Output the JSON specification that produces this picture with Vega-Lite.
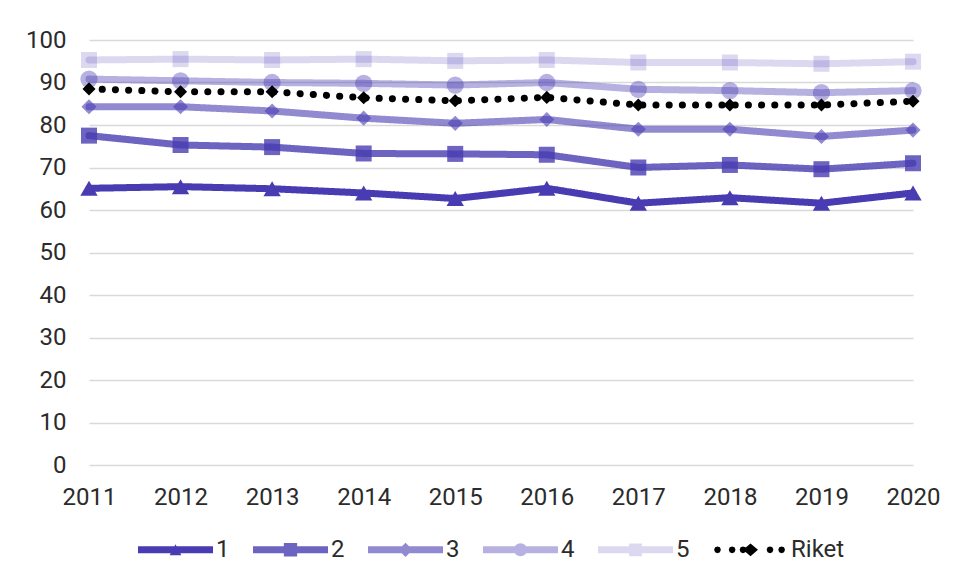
{
  "$schema": "https://vega.github.io/schema/vega-lite/v6.json",
  "width": 824,
  "height": 425,
  "autosize": {"type": "none"},
  "padding": {"left": 89, "top": 40, "right": 41, "bottom": 114},
  "background": "white",
  "config": {"view": {"stroke": null}, "font": "Roboto"},
  "data": {"values": [
    {"year": "2011", "series": "1", "value": 65.1},
    {"year": "2012", "series": "1", "value": 65.5},
    {"year": "2013", "series": "1", "value": 65.0},
    {"year": "2014", "series": "1", "value": 64.0},
    {"year": "2015", "series": "1", "value": 62.7},
    {"year": "2016", "series": "1", "value": 65.1},
    {"year": "2017", "series": "1", "value": 61.6},
    {"year": "2018", "series": "1", "value": 62.9},
    {"year": "2019", "series": "1", "value": 61.6},
    {"year": "2020", "series": "1", "value": 64.0},
    {"year": "2011", "series": "2", "value": 77.5},
    {"year": "2012", "series": "2", "value": 75.3},
    {"year": "2013", "series": "2", "value": 74.8},
    {"year": "2014", "series": "2", "value": 73.3},
    {"year": "2015", "series": "2", "value": 73.2},
    {"year": "2016", "series": "2", "value": 73.0},
    {"year": "2017", "series": "2", "value": 70.0},
    {"year": "2018", "series": "2", "value": 70.6},
    {"year": "2019", "series": "2", "value": 69.6},
    {"year": "2020", "series": "2", "value": 71.0},
    {"year": "2011", "series": "3", "value": 84.3},
    {"year": "2012", "series": "3", "value": 84.3},
    {"year": "2013", "series": "3", "value": 83.3},
    {"year": "2014", "series": "3", "value": 81.6},
    {"year": "2015", "series": "3", "value": 80.4},
    {"year": "2016", "series": "3", "value": 81.3},
    {"year": "2017", "series": "3", "value": 79.0},
    {"year": "2018", "series": "3", "value": 79.0},
    {"year": "2019", "series": "3", "value": 77.3},
    {"year": "2020", "series": "3", "value": 78.8},
    {"year": "2011", "series": "4", "value": 90.8},
    {"year": "2012", "series": "4", "value": 90.4},
    {"year": "2013", "series": "4", "value": 90.0},
    {"year": "2014", "series": "4", "value": 89.8},
    {"year": "2015", "series": "4", "value": 89.4},
    {"year": "2016", "series": "4", "value": 90.0},
    {"year": "2017", "series": "4", "value": 88.4},
    {"year": "2018", "series": "4", "value": 88.1},
    {"year": "2019", "series": "4", "value": 87.6},
    {"year": "2020", "series": "4", "value": 88.1},
    {"year": "2011", "series": "5", "value": 95.3},
    {"year": "2012", "series": "5", "value": 95.5},
    {"year": "2013", "series": "5", "value": 95.3},
    {"year": "2014", "series": "5", "value": 95.5},
    {"year": "2015", "series": "5", "value": 95.1},
    {"year": "2016", "series": "5", "value": 95.3},
    {"year": "2017", "series": "5", "value": 94.7},
    {"year": "2018", "series": "5", "value": 94.7},
    {"year": "2019", "series": "5", "value": 94.4},
    {"year": "2020", "series": "5", "value": 94.9},
    {"year": "2011", "series": "Riket", "value": 88.5},
    {"year": "2012", "series": "Riket", "value": 87.8},
    {"year": "2013", "series": "Riket", "value": 87.8},
    {"year": "2014", "series": "Riket", "value": 86.4},
    {"year": "2015", "series": "Riket", "value": 85.7},
    {"year": "2016", "series": "Riket", "value": 86.5},
    {"year": "2017", "series": "Riket", "value": 84.7},
    {"year": "2018", "series": "Riket", "value": 84.7},
    {"year": "2019", "series": "Riket", "value": 84.7},
    {"year": "2020", "series": "Riket", "value": 85.6}
  ]},
  "layer": [
    {"mark": {"type": "line", "strokeWidth": 7, "strokeCap": "round"},
      "encoding": {
        "x": {"field": "year", "type": "ordinal", "scale": {"type": "point", "padding": 0},
          "axis": {"title": null, "labelAngle": 0, "labelFontSize": 24, "labelColor": "#2b2b2b", "labelPadding": 20, "ticks": false, "domain": false, "grid": false}},
        "y": {"field": "value", "type": "quantitative", "scale": {"domain": [0, 100], "nice": false},
          "axis": {"title": null, "values": [0, 10, 20, 30, 40, 50, 60, 70, 80, 90, 100], "labelFontSize": 24, "labelColor": "#2b2b2b", "labelPadding": 23, "ticks": false, "domain": false, "gridColor": "#d9d9d9", "gridWidth": 1.5}},
        "color": {"field": "series", "type": "nominal",
          "scale": {"domain": ["1", "2", "3", "4", "5", "Riket"],
            "range": ["rgba(73,60,178,1)", "rgba(73,60,178,0.8)", "rgba(73,60,178,0.6)", "rgba(73,60,178,0.4)", "rgba(73,60,178,0.2)", "#000000"]},
          "legend": {"orient": "none", "legendX": 49, "legendY": 472, "direction": "horizontal", "columns": 6, "title": null,
            "symbolSize": 5625, "symbolOpacity": 1, "symbolStrokeWidth": 0, "symbolType": "circle", "labelFontSize": 24, "labelFont": "Roboto",
            "labelColor": "#2b2b2b", "labelOffset": 3, "columnPadding": 23, "padding": 0}},
        "strokeDash": {"field": "series", "type": "nominal",
          "scale": {"domain": ["1", "2", "3", "4", "5", "Riket"], "range": [[1, 0], [1, 0], [1, 0], [1, 0], [1, 0], [0.1, 13.1]]},
          "legend": null}}},
    {"transform": [{"filter": "false"}],
      "mark": {"type": "point", "filled": true, "opacity": 1},
      "encoding": {
        "x": {"field": "year", "type": "ordinal"},
        "y": {"field": "value", "type": "quantitative"},
        "color": {"field": "series", "type": "nominal"},
        "shape": {"field": "series", "type": "nominal",
          "scale": {"domain": ["1", "2", "3", "4", "5", "Riket"],
            "range": [
              "M-1,-0.093L1,-0.093L1,0.093L-1,0.093Z M0,-0.15L0.156,0.147L-0.156,0.147Z",
              "M-1,-0.093L1,-0.093L1,0.093L-1,0.093Z M-0.177,-0.177L0.177,-0.177L0.177,0.177L-0.177,0.177Z",
              "M-1,-0.093L1,-0.093L1,0.093L-1,0.093Z M0,-0.19L0.19,0L0,0.19L-0.19,0Z",
              "M-1,-0.093L1,-0.093L1,0.093L-1,0.093Z M0.175,0L0.162,0.067L0.124,0.124L0.067,0.162L0,0.175L-0.067,0.162L-0.124,0.124L-0.162,0.067L-0.175,0L-0.162,-0.067L-0.124,-0.124L-0.067,-0.162L0,-0.175L0.067,-0.162L0.124,-0.124L0.162,-0.067Z",
              "M-1,-0.093L1,-0.093L1,0.093L-1,0.093Z M-0.17,-0.17L0.17,-0.17L0.17,0.17L-0.17,0.17Z",
              "M-0.79,0L-0.816,0.064L-0.88,0.09L-0.944,0.064L-0.97,0L-0.944,-0.064L-0.88,-0.09L-0.816,-0.064Z M-0.4,0L-0.426,0.064L-0.49,0.09L-0.554,0.064L-0.58,0L-0.554,-0.064L-0.49,-0.09L-0.426,-0.064Z M-0.11,0L-0.136,0.064L-0.2,0.09L-0.264,0.064L-0.29,0L-0.264,-0.064L-0.2,-0.09L-0.136,-0.064Z M0,-0.17L0.2,0L0,0.17L-0.2,0Z M0.61,0L0.584,0.064L0.52,0.09L0.456,0.064L0.43,0L0.456,-0.064L0.52,-0.09L0.584,-0.064Z M0.92,0L0.894,0.064L0.83,0.09L0.766,0.064L0.74,0L0.766,-0.064L0.83,-0.09L0.894,-0.064Z"
            ]},
          "legend": {"orient": "none", "legendX": 49, "legendY": 472, "direction": "horizontal", "columns": 6, "title": null,
            "symbolSize": 5625, "symbolOpacity": 1, "symbolStrokeWidth": 0, "labelFontSize": 24, "labelFont": "Roboto",
            "labelColor": "#2b2b2b", "labelOffset": 3, "columnPadding": 23, "padding": 0}}
      }},
    {"transform": [{"filter": "datum.series === '1'"}], "mark": {"type": "point", "filled": true, "opacity": 1, "shape": "triangle-up", "size": 300},
      "encoding": {"x": {"field": "year", "type": "ordinal"}, "y": {"field": "value", "type": "quantitative"}, "color": {"field": "series", "type": "nominal"}}},
    {"transform": [{"filter": "datum.series === '2'"}], "mark": {"type": "point", "filled": true, "opacity": 1, "shape": "square", "size": 256},
      "encoding": {"x": {"field": "year", "type": "ordinal"}, "y": {"field": "value", "type": "quantitative"}, "color": {"field": "series", "type": "nominal"}}},
    {"transform": [{"filter": "datum.series === '3'"}], "mark": {"type": "point", "filled": true, "opacity": 1, "shape": "diamond", "size": 230},
      "encoding": {"x": {"field": "year", "type": "ordinal"}, "y": {"field": "value", "type": "quantitative"}, "color": {"field": "series", "type": "nominal"}}},
    {"transform": [{"filter": "datum.series === '4'"}], "mark": {"type": "point", "filled": true, "opacity": 1, "shape": "circle", "size": 300},
      "encoding": {"x": {"field": "year", "type": "ordinal"}, "y": {"field": "value", "type": "quantitative"}, "color": {"field": "series", "type": "nominal"}}},
    {"transform": [{"filter": "datum.series === '5'"}], "mark": {"type": "point", "filled": true, "opacity": 1, "shape": "square", "size": 256},
      "encoding": {"x": {"field": "year", "type": "ordinal"}, "y": {"field": "value", "type": "quantitative"}, "color": {"field": "series", "type": "nominal"}}},
    {"transform": [{"filter": "datum.series === 'Riket'"}], "mark": {"type": "point", "filled": true, "opacity": 1, "shape": "diamond", "size": 170},
      "encoding": {"x": {"field": "year", "type": "ordinal"}, "y": {"field": "value", "type": "quantitative"}, "color": {"field": "series", "type": "nominal"}}}
  ]
}
